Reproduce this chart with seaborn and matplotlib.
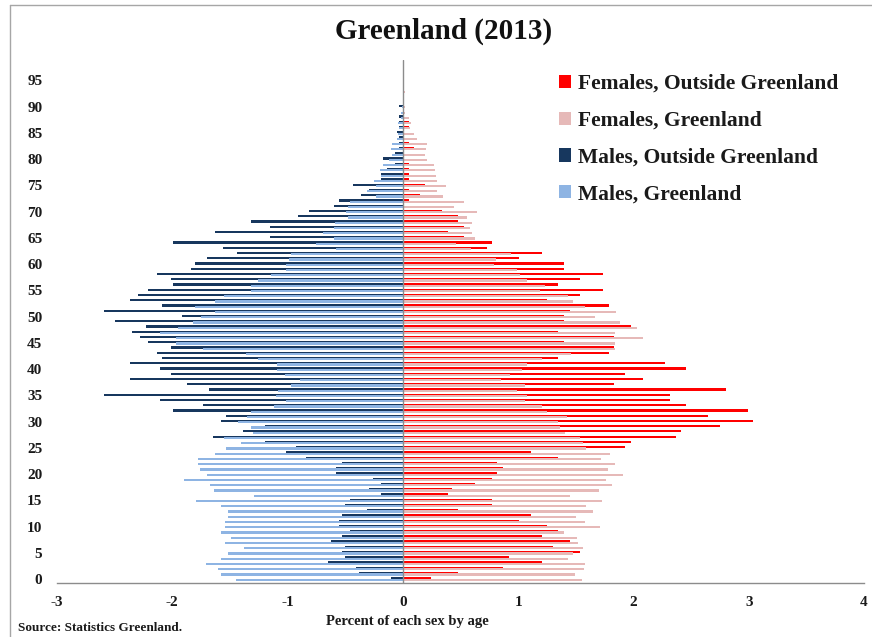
import numpy as np
import pandas as pd
import matplotlib
matplotlib.use("Agg")
import matplotlib.pyplot as plt
from matplotlib.lines import Line2D
import seaborn as sns

ages = list(range(96))

males_greenland = [
    1.45, 1.58, 1.60, 1.71, 1.58, 1.52, 1.38, 1.54, 1.49, 1.58,
    1.54, 1.54, 1.52, 1.52, 1.58, 1.79, 1.29, 1.64, 1.67, 1.90,
    1.70, 1.76, 1.78, 1.78, 1.63, 1.53, 1.40, 1.55, 1.30, 1.32,
    1.43, 1.35, 1.32, 1.12, 1.01, 1.10, 1.08, 0.97, 0.89, 1.02,
    1.09, 1.09, 1.26, 1.36, 1.73, 1.97, 1.97, 2.11, 1.95, 1.82,
    1.75, 1.63, 1.80, 1.63, 1.55, 1.32, 1.32, 1.26, 1.14, 1.01,
    1.01, 0.99, 0.97, 0.58, 0.75, 0.60, 0.69, 0.60, 0.59, 0.48,
    0.49, 0.48, 0.46, 0.23, 0.31, 0.23, 0.25, 0.19, 0.20, 0.17,
    0.12, 0.09, 0.10, 0.09, 0.05, 0.04, 0.03, 0.04, 0.02, 0.02,
    0.01, 0.0, 0.0, 0.0, 0.0, 0.0]

males_outside = [
    0.10, 0.38, 0.41, 0.65, 0.50, 0.53, 0.50, 0.62, 0.53, 0.46,
    0.55, 0.55, 0.53, 0.31, 0.50, 0.46, 0.19, 0.29, 0.19, 0.26,
    0.58, 0.58, 0.53, 0.84, 1.01, 0.93, 1.20, 1.65, 1.39, 1.20,
    1.58, 1.53, 1.99, 1.73, 2.11, 2.59, 1.68, 1.87, 2.37, 2.01,
    2.11, 2.37, 2.09, 2.13, 2.01, 2.21, 2.28, 2.35, 2.23, 2.50,
    1.92, 2.59, 2.09, 2.37, 2.30, 2.21, 1.99, 2.01, 2.13, 1.84,
    1.80, 1.70, 1.44, 1.56, 1.99, 1.15, 1.63, 1.15, 1.32, 0.91,
    0.81, 0.60, 0.55, 0.36, 0.29, 0.43, 0.19, 0.19, 0.14, 0.07,
    0.17, 0.07, 0.03, 0.03, 0.03, 0.05, 0.03, 0.03, 0.03, 0.0,
    0.03, 0.0, 0.0, 0.0, 0.0, 0.0]

females_outside = [
    0.24, 0.48, 0.87, 1.21, 0.92, 1.54, 1.30, 1.45, 1.21, 1.35,
    1.25, 1.01, 1.11, 0.48, 0.77, 0.77, 0.39, 0.43, 0.63, 0.77,
    0.82, 0.87, 0.82, 1.35, 1.11, 1.93, 1.98, 2.37, 2.41, 2.75,
    3.04, 2.65, 2.99, 2.46, 2.32, 2.32, 2.80, 1.83, 2.08, 1.93,
    2.46, 2.27, 1.35, 1.79, 1.83, 1.40, 1.83, 1.35, 1.98, 1.40,
    1.40, 1.45, 1.79, 1.25, 1.54, 1.74, 1.35, 1.54, 1.74, 1.40,
    1.40, 1.01, 1.21, 0.73, 0.77, 0.53, 0.39, 0.53, 0.48, 0.48,
    0.34, 0.0, 0.05, 0.15, 0.05, 0.19, 0.05, 0.05, 0.05, 0.05,
    0.0, 0.0, 0.10, 0.05, 0.0, 0.0, 0.05, 0.05, 0.0, 0.0,
    0.0, 0.0, 0.0, 0.0, 0.0, 0.0]

females_greenland = [
    1.55, 1.49, 1.57, 1.58, 1.43, 1.48, 1.56, 1.52, 1.51, 1.40,
    1.71, 1.58, 1.50, 1.65, 1.59, 1.73, 1.45, 1.70, 1.81, 1.76,
    1.91, 1.78, 1.84, 1.72, 1.80, 1.59, 1.56, 1.54, 1.41, 1.36,
    1.35, 1.42, 1.25, 1.21, 1.06, 1.08, 0.99, 1.06, 0.85, 0.93,
    1.03, 1.08, 1.21, 1.46, 1.84, 1.84, 2.08, 1.84, 2.03, 1.88,
    1.67, 1.85, 1.58, 1.48, 1.43, 1.19, 1.23, 1.08, 1.02, 0.99,
    0.79, 0.81, 0.94, 0.59, 0.46, 0.63, 0.60, 0.58, 0.60, 0.56,
    0.64, 0.44, 0.53, 0.35, 0.30, 0.37, 0.30, 0.29, 0.28, 0.27,
    0.21, 0.19, 0.20, 0.21, 0.12, 0.10, 0.06, 0.07, 0.05, 0.02,
    0.02, 0.0, 0.0, 0.02, 0.0, 0.0]

series_labels = ["Females, Outside Greenland", "Females, Greenland",
                 "Males, Outside Greenland", "Males, Greenland"]
series_colors = ["#ff0000", "#e6b9b8", "#17375e", "#8eb4e3"]

sns.set_theme(style="white")
plt.rcParams["font.family"] = ["Liberation Serif", "DejaVu Serif"]
plt.rcParams["axes.unicode_minus"] = False

W, H = 872, 637
fig = plt.figure(figsize=(W / 100, H / 100), dpi=100)
ax = fig.add_axes([57 / W, 1 - 583 / H, (864 - 57) / W, (583 - 60) / H])

age_arr = np.array(ages, dtype=float)
off = 0.13
bw = 0.42

# outside first, Greenland drawn on top with a small offset
draw = [
    (-np.array(males_outside), age_arr + off, series_labels[2], series_colors[2]),
    (np.array(females_outside), age_arr + off, series_labels[0], series_colors[0]),
    (-np.array(males_greenland), age_arr - off, series_labels[3], series_colors[3]),
    (np.array(females_greenland), age_arr - off, series_labels[1], series_colors[1]),
]
for xv, yv, lab, col in draw:
    sns.barplot(x=xv, y=yv, orient="y", native_scale=True, width=bw,
                color=col, saturation=1, linewidth=0, errorbar=None,
                label=lab, ax=ax)

ax.set_xlim(-3, 4)
ax.set_ylim(-0.76, 98.9)
ax.set_xticks(range(-3, 5))
ax.set_xticklabels([str(v) for v in range(-3, 5)])
ax.set_yticks(range(0, 96, 5))
ax.set_yticklabels([str(v) for v in range(0, 96, 5)])
ax.set_xlabel("")
ax.set_ylabel("")
ax.tick_params(axis="both", length=0, labelsize=11)
ax.tick_params(axis="x", pad=9)
ax.tick_params(axis="y", pad=10.5)
for t in ax.get_xticklabels() + ax.get_yticklabels():
    t.set_fontweight("bold")
    t.set_color("#1a1a1a")
for s in ["top", "right", "left"]:
    ax.spines[s].set_visible(False)
ax.spines["bottom"].set_color("#8c8c8c")
ax.spines["bottom"].set_linewidth(1.0)
ax.axvline(0, color="#8c8c8c", lw=1.0, zorder=5)

handles, labels = ax.get_legend_handles_labels()
hmap = dict(zip(labels, handles))
leg = ax.legend([hmap[l] for l in series_labels], series_labels,
                loc="upper left", bbox_to_anchor=(559 / W, 1 - 74 / H),
                bbox_transform=fig.transFigure, frameon=False,
                prop={"weight": "bold", "size": 15.5},
                handlelength=0.56, handleheight=0.56, handletextpad=0.3,
                labelspacing=0.78, borderpad=0, borderaxespad=0)
for t in leg.get_texts():
    t.set_color("#1a1a1a")

fig.text(444 / W, 1 - 31 / H, "Greenland (2013)", ha="center", va="center",
         fontsize=21, fontweight="bold", color="#111111")
fig.text(407 / W, 1 - 621 / H, "Percent of each sex by age", ha="center",
         va="center", fontsize=10.5, fontweight="bold", color="#1a1a1a")
fig.text(18 / W, 1 - 628 / H, "Source: Statistics Greenland.", ha="left",
         va="center", fontsize=9.5, fontweight="bold", color="#1a1a1a")

fig.add_artist(Line2D([10 / W, 10 / W], [0, 1 - 5 / H], transform=fig.transFigure,
                      color="#a6a6a6", lw=1.0))
fig.add_artist(Line2D([10 / W, 1], [1 - 5 / H, 1 - 5 / H], transform=fig.transFigure,
                      color="#a6a6a6", lw=1.0))

fig.savefig("out.png", dpi=100)
